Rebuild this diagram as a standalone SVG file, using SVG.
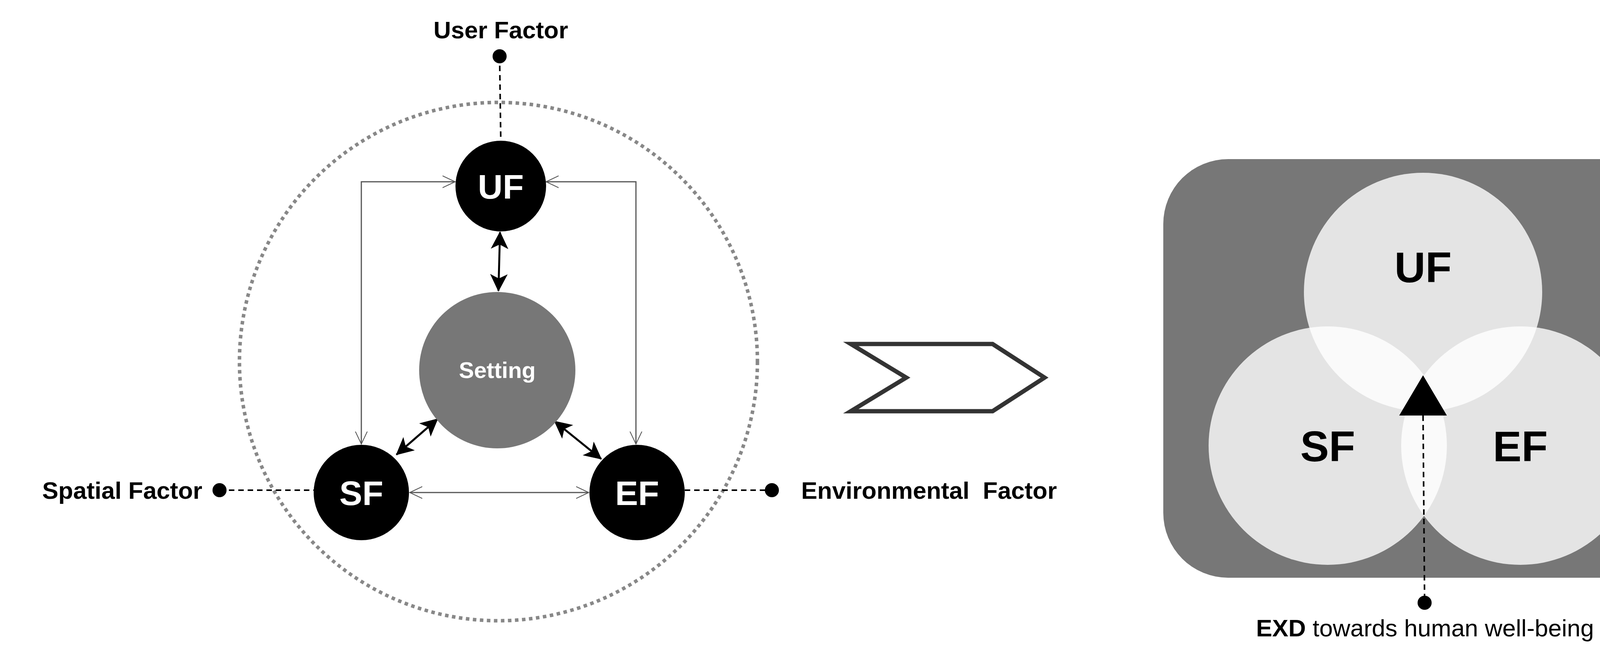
<svg xmlns="http://www.w3.org/2000/svg" width="4341" height="1691" viewBox="0 0 4341 1691">
<defs>
<style>
text{font-family:"Liberation Sans",Arial,sans-serif;font-weight:bold;}
.lbl{font-size:62px;fill:#000;}
.node{fill:#000;}
.nt{fill:#fff;font-size:88px;text-anchor:middle;}
.thin{stroke:#555;stroke-width:3;fill:none;}
.bold{stroke:#000;stroke-width:5;fill:none;}
.dash{stroke:#000;stroke-width:4;stroke-dasharray:14 10;fill:none;}
.vt{font-size:110px;text-anchor:middle;fill:#000;}
</style>
<marker id="open" viewBox="0 0 20 20" refX="19" refY="10" markerWidth="34" markerHeight="34" markerUnits="userSpaceOnUse" orient="auto-start-reverse">
<path d="M0,1 L19,10 L0,19" fill="none" stroke="#555" stroke-width="1.2"/>
</marker>
<marker id="solid" viewBox="0 0 20 20" refX="19" refY="10" markerWidth="9" markerHeight="9" orient="auto-start-reverse">
<path d="M0,0 L20,10 L0,20 L5,10 Z" fill="#000"/>
</marker>
</defs>
<circle cx="1276" cy="925" r="663" fill="none" stroke="#888" stroke-width="9" stroke-dasharray="9 9"/>
<g id="connectors">
<line class="dash" x1="1279" y1="144" x2="1282" y2="360"/>
<line class="dash" x1="562" y1="1254" x2="805" y2="1254"/>
<line class="dash" x1="1753" y1="1254" x2="1976" y2="1254"/>
<path class="thin" d="M1165,465 H925 V1136" marker-start="url(#open)" marker-end="url(#open)"/>
<path class="thin" d="M1398,465 H1628 V1136" marker-start="url(#open)" marker-end="url(#open)"/>
<line class="thin" x1="1049" y1="1260" x2="1507" y2="1260" marker-start="url(#open)" marker-end="url(#open)"/>
<line class="bold" x1="1280" y1="594" x2="1276" y2="744" marker-start="url(#solid)" marker-end="url(#solid)"/>
<line class="bold" x1="1120" y1="1072" x2="1015" y2="1163" marker-start="url(#solid)" marker-end="url(#solid)"/>
<line class="bold" x1="1420" y1="1078" x2="1539" y2="1174" marker-start="url(#solid)" marker-end="url(#solid)"/>
<circle cx="1279" cy="144" r="18"/>
<circle cx="562" cy="1254" r="18"/>
<circle cx="1976" cy="1254" r="18"/>
</g>
<text class="lbl" x="1282" y="98" text-anchor="middle">User Factor</text>
<text class="lbl" x="518" y="1276" text-anchor="end">Spatial Factor</text>
<text class="lbl" x="2051" y="1276" xml:space="preserve">Environmental  Factor</text>
<g id="setting"><circle cx="1273" cy="947" r="200" fill="#777"/><text x="1273" y="967" font-size="58" fill="#fff" text-anchor="middle">Setting</text></g>
<g id="uf"><circle class="node" cx="1282" cy="476" r="116"/><text class="nt" x="1282" y="508">UF</text></g>
<g id="sf"><circle class="node" cx="925" cy="1260" r="122"/><text class="nt" x="925" y="1292">SF</text></g>
<g id="ef"><circle class="node" cx="1631" cy="1260" r="122"/><text class="nt" x="1631" y="1292">EF</text></g>
<g id="chevron"><polygon points="2178,880 2541,880 2674,966 2541,1052 2178,1052 2320,966" fill="#fff" stroke="#333" stroke-width="11"/></g>
<g id="venn">
<rect x="2978" y="407" width="1312" height="1071" rx="166" fill="#777"/>
<circle cx="3643" cy="747" r="305" fill="#fff" fill-opacity="0.8"/>
<circle cx="3399" cy="1140" r="305" fill="#fff" fill-opacity="0.8"/>
<circle cx="3892" cy="1140" r="305" fill="#fff" fill-opacity="0.8"/>
<text class="vt" x="3643" y="722">UF</text>
<text class="vt" x="3399" y="1180">SF</text>
<text class="vt" x="3892" y="1180">EF</text>
<polygon points="3643,960 3582,1063 3704,1063" fill="#000"/>
<line class="dash" x1="3643" y1="1063" x2="3647" y2="1542" stroke-width="3"/>
<circle cx="3647" cy="1542" r="18"/>
<text x="3648" y="1628" font-size="62" text-anchor="middle"><tspan font-weight="bold">EXD</tspan><tspan font-weight="normal"> towards human well-being</tspan></text>
</g>
</svg>
